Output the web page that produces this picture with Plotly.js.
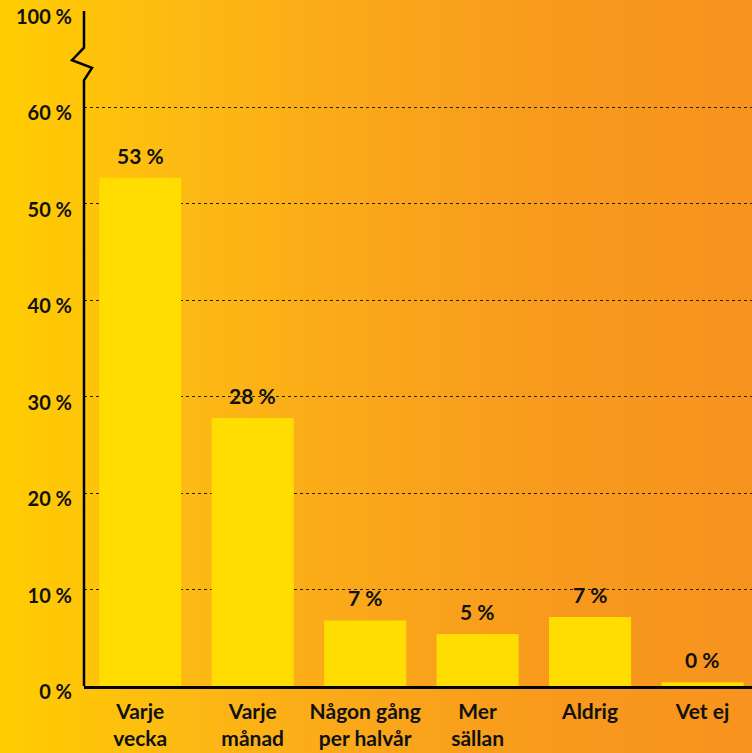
<!DOCTYPE html>
<html>
<head>
<meta charset="utf-8">
<script src="https://cdn.plot.ly/plotly-3.0.1.min.js"></script>
<style>
html,body{margin:0;padding:0;}
body{width:752px;height:753px;overflow:hidden;background:linear-gradient(to right,#FFCD00 0%,#FDB914 25%,#FAA61A 50%,#F8991D 75%,#F7931E 100%);}
#chart{width:752px;height:753px;}
</style>
</head>
<body>
<div id="chart"></div>
<script>
const categories = ['Varje<br>vecka','Varje<br>månad','Någon gång<br>per halvår','Mer<br>sällan','Aldrig','Vet ej'];
const values = [52.7, 27.8, 6.8, 5.4, 7.15, 0.4];
const tickVals = [0,10,20,30,40,50,60,70];
const tickText = ['0 %','10 %','20 %','30 %','40 %','50 %','60 %','100 %'];

const idx = categories.map((c,i)=>i);
const fontFam = 'Lato, "Open Sans", sans-serif';

const trace = {
  type:'bar',
  x: idx,
  y: values,
  marker:{color:'#FFDD00', line:{width:0}},
  hoverinfo:'skip'
};

const annotations = values.map((v,i)=>({
  x:i, y:v, xref:'x', yref:'y',
  text: Math.round(v)+' %',
  showarrow:false, yanchor:'bottom', yshift:8,
  font:{family:fontFam, size:21, color:'#111', weight:'bold'}
}));

// y-axis line with a break between 60 and 100
const px = p => (p-84)/668;
const shapes = [{
  type:'path', xref:'paper', yref:'y',
  path:`M ${px(84)} 0 L ${px(84)} 62.8 L ${px(92)} 64.1 L ${px(72)} 64.9 L ${px(84)} 66.2 L ${px(84)} 70`,
  line:{color:'#000', width:2.5}
}];

const layout = {
  width:752, height:753,
  margin:{l:84, r:0, t:11, b:67, pad:0},
  paper_bgcolor:'rgba(0,0,0,0)',
  plot_bgcolor:'rgba(0,0,0,0)',
  showlegend:false,
  bargap:0.27,
  xaxis:{
    range:[-0.5,5.44],
    tickmode:'array', tickvals:idx, ticktext:categories,
    showgrid:false, zeroline:false,
    showline:true, linecolor:'#000', linewidth:2.5,
    ticks:'', ticklabelstandoff:5, ticklabeloverflow:'allow',
    tickfont:{family:fontFam, size:21, color:'#111', weight:'bold'},
    fixedrange:true
  },
  yaxis:{
    range:[0,70],
    tickmode:'array', tickvals:tickVals, ticktext:tickText,
    showgrid:true, gridcolor:'#222', gridwidth:1, griddash:'dot',
    zeroline:false, showline:false, ticks:'',
    ticklabelstandoff:11, ticklabelshift:6, ticklabeloverflow:'allow',
    tickfont:{family:fontFam, size:20, color:'#111', weight:'bold'},
    fixedrange:true
  },
  annotations: annotations,
  shapes: shapes
};

Plotly.newPlot('chart',[trace],layout,{displayModeBar:false, staticPlot:true});
</script>
</body>
</html>
